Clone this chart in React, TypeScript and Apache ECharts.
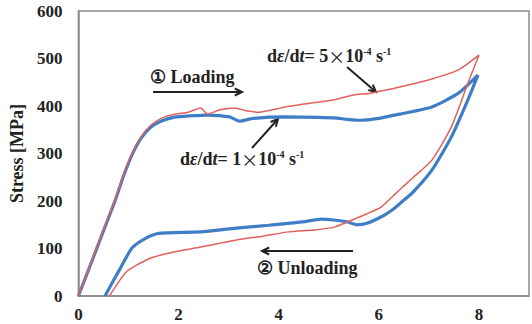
import React, { useEffect, useRef } from "react";
import * as echarts from "echarts";

// strain [%] vs stress [MPa]
const redLoading: [number, number][] = [
  [0, 0], [0.25, 70], [0.5, 140], [0.72, 200], [0.9, 255], [1.07, 300], [1.25, 335],
  [1.45, 360], [1.7, 376], [1.95, 383], [2.19, 387], [2.44, 396], [2.58, 383], [2.83, 392],
  [3.12, 396], [3.35, 390], [3.6, 387], [4.14, 398], [4.78, 408], [5.11, 413], [5.5, 423],
  [5.83, 427], [6.42, 440], [7.06, 457], [7.59, 476], [8.0, 507],
];
const redUnloading: [number, number][] = [
  [8.0, 507], [7.78, 448], [7.45, 356], [7.06, 286], [6.67, 248], [6.48, 230], [6.28, 210],
  [6.03, 186], [5.56, 164], [5.11, 145], [4.72, 139], [4.2, 135], [3.69, 126], [3.16, 118],
  [2.44, 103], [1.8, 90], [1.4, 78], [0.96, 51], [0.62, 0],
];
const blueLoading: [number, number][] = [
  [0, 0], [0.25, 68], [0.5, 137], [0.72, 197], [0.9, 252], [1.07, 297], [1.25, 332],
  [1.45, 356], [1.7, 370], [1.95, 377], [2.19, 379], [2.58, 381], [3.02, 377], [3.22, 368],
  [3.49, 374], [4.14, 377], [4.78, 376], [5.11, 375], [5.37, 372], [5.63, 370], [6.0, 374],
  [6.42, 383], [7.06, 398], [7.59, 427], [7.98, 465],
];
const blueUnloading: [number, number][] = [
  [7.98, 465], [7.78, 413], [7.45, 335], [7.06, 265], [6.67, 217], [6.48, 200], [6.28, 182],
  [6.09, 169], [5.76, 153], [5.56, 150], [5.37, 156], [5.1, 160], [4.86, 162], [4.47, 156],
  [3.8, 149], [3.16, 143], [2.44, 135], [1.6, 132], [1.35, 122], [1.07, 101], [0.82, 55],
  [0.53, 0],
];

const xTicks = { min: 0, max: 9, interval: 2 };
const yTicks = { min: 0, max: 600, interval: 100 };

const SERIF = "Liberation Serif";

function arrow(x1: number, y1: number, x2: number, y2: number, head = 8) {
  const a = Math.atan2(y2 - y1, x2 - x1);
  const s = 0.45;
  const p1 = [x2 - head * Math.cos(a - s), y2 - head * Math.sin(a - s)];
  const p2 = [x2 - head * Math.cos(a + s), y2 - head * Math.sin(a + s)];
  return [
    { type: "line", shape: { x1, y1, x2, y2 }, style: { stroke: "#222", lineWidth: 2 } },
    { type: "polyline", shape: { points: [p1, [x2, y2], p2] }, style: { stroke: "#222", lineWidth: 2, fill: null } },
  ];
}

const rich = {
  b: { fontFamily: SERIF, fontWeight: "bold", fontSize: 18, lineHeight: 20, fill: "#222" },
  i: { fontFamily: SERIF, fontWeight: "bold", fontStyle: "italic", fontSize: 18, lineHeight: 20, fill: "#222" },
  x: { fontFamily: "Noto Sans CJK SC", fontSize: 17, lineHeight: 20, fill: "#222" },
  sup: { fontFamily: SERIF, fontWeight: "bold", fontSize: 10, lineHeight: 20, verticalAlign: "top", fill: "#222" },
};

function rateText(x: number, y: number, n: string) {
  return {
    type: "text",
    x,
    y,
    style: {
      text: `{b|d}{i|ε}{b|/d}{i|t}{b|= ${n}}{x|×}{b|10}{sup|-4}{b| s}{sup|-1}`,
      rich,
      align: "left",
      verticalAlign: "middle",
    },
  };
}

export default function App() {
  const ref = useRef<HTMLDivElement>(null);
  useEffect(() => {
    if (!ref.current) return;
    const chart = echarts.init(ref.current, null, { renderer: "svg" });
    chart.setOption({
      animation: false,
      backgroundColor: "#fff",
      grid: { left: 78, right: -7, top: 11, bottom: 28, show: true, borderColor: "#8a8a8a", borderWidth: 1.5 },
      xAxis: {
        type: "value",
        ...xTicks,
        axisLine: { show: true, lineStyle: { color: "#8a8a8a", width: 1.5 } },
        axisTick: { show: false },
        splitLine: { show: false },
        axisLabel: {
          margin: 10,
          fontFamily: SERIF,
          fontWeight: "bold",
          fontSize: 17,
          color: "#222",
          formatter: (v: number) => (v > 8 ? "" : String(v)),
        },
      },
      yAxis: {
        type: "value",
        ...yTicks,
        name: "Stress [MPa]",
        nameLocation: "middle",
        nameGap: 50,
        nameRotate: 90,
        nameTextStyle: { fontFamily: SERIF, fontWeight: "bold", fontSize: 18, color: "#222" },
        axisLine: { show: true, lineStyle: { color: "#8a8a8a", width: 1.5 } },
        axisTick: { show: false },
        splitLine: { show: false },
        axisLabel: { margin: 16, fontFamily: SERIF, fontWeight: "bold", fontSize: 17, color: "#222" },
      },
      series: [
        { type: "line", data: [...blueLoading, ...blueUnloading.slice(1)], showSymbol: false, smooth: 0.2, lineStyle: { color: "#3f7dc6", width: 3.2 } },
        { type: "line", data: [...redLoading, ...redUnloading.slice(1)], showSymbol: false, smooth: 0.2, lineStyle: { color: "#e0605c", width: 1.5 } },
      ],
      graphic: [
        { type: "text", x: 150, y: 77, style: { text: "① Loading", font: `bold 18px ${SERIF}`, fill: "#222", verticalAlign: "middle" } },
        ...arrow(153, 92, 242, 92),
        rateText(267, 56, "5"),
        ...arrow(347, 67, 376, 92),
        rateText(180, 159, "1"),
        ...arrow(252, 148, 278, 119),
        { type: "text", x: 257, y: 268, style: { text: "② Unloading", font: `bold 18px ${SERIF}`, fill: "#222", verticalAlign: "middle" } },
        ...arrow(353, 251, 262, 251),
      ],
    });
    return () => chart.dispose();
  }, []);
  return <div ref={ref} style={{ position: "fixed", left: 0, top: 0, width: 532, height: 324 }} />;
}
